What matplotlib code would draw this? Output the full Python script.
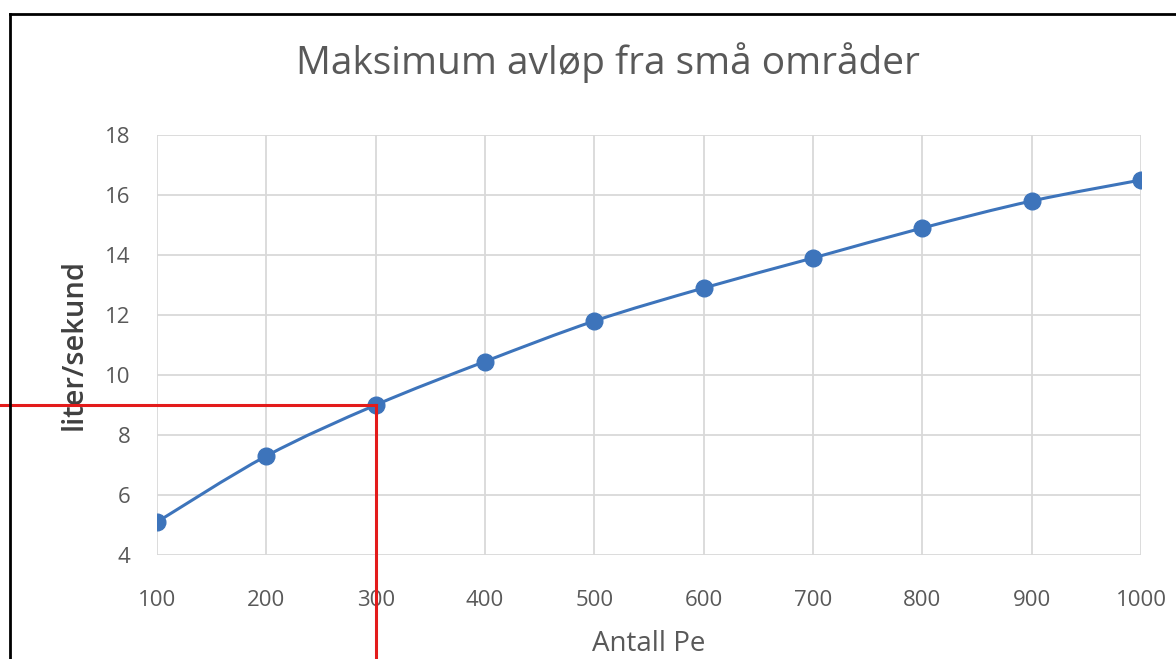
import matplotlib
matplotlib.use("Agg")
import matplotlib.pyplot as plt
from matplotlib.path import Path
from matplotlib.patches import PathPatch
from matplotlib.lines import Line2D
import numpy as np

antall_pe = [100, 200, 300, 400, 500, 600, 700, 800, 900, 1000]
liter_per_sekund = [5.1, 7.3, 9.0, 10.45, 11.8, 12.9, 13.9, 14.9, 15.8, 16.5]
x_ticks = [100, 200, 300, 400, 500, 600, 700, 800, 900, 1000]
y_ticks = [4, 6, 8, 10, 12, 14, 16, 18]
marked_x = 300
marked_y = 9.0

title = "Maksimum avløp fra små områder"
xlabel = "Antall Pe"
ylabel = "liter/sekund"

W, H = 1176, 659
fig = plt.figure(figsize=(W / 100, H / 100), dpi=100)
ax = fig.add_axes([157 / W, 1 - 555 / H, (1141 - 157) / W, (555 - 135) / H])

font = ["Open Sans", "DejaVu Sans"]
gray = "#595959"
blue = "#3d74bb"

ax.set_xlim(100, 1000)
ax.set_ylim(4, 18)
ax.set_xticks(x_ticks)
ax.set_yticks(y_ticks)
ax.grid(True, color="#d9d9d9", linewidth=1.3)
ax.set_axisbelow(True)
for s in ax.spines.values():
    s.set_visible(False)
ax.tick_params(length=0, labelsize=16, labelcolor=gray)
ax.tick_params(axis="x", pad=25)
ax.tick_params(axis="y", pad=19)
for lab in ax.get_xticklabels() + ax.get_yticklabels():
    lab.set_family(font)

# smoothed line (Catmull-Rom rendered as cubic Bezier)
xs = np.array(antall_pe, float)
ys = np.array(liter_per_sekund, float)
verts = [(xs[0], ys[0])]
codes = [Path.MOVETO]
n = len(xs)
for i in range(n - 1):
    p0 = np.array([xs[max(i - 1, 0)], ys[max(i - 1, 0)]])
    p1 = np.array([xs[i], ys[i]])
    p2 = np.array([xs[i + 1], ys[i + 1]])
    p3 = np.array([xs[min(i + 2, n - 1)], ys[min(i + 2, n - 1)]])
    c1 = p1 + (p2 - p0) / 6
    c2 = p2 - (p3 - p1) / 6
    verts += [tuple(c1), tuple(c2), tuple(p2)]
    codes += [Path.CURVE4] * 3
ax.add_patch(PathPatch(Path(verts, codes), facecolor="none", edgecolor=blue, linewidth=2.2, zorder=3))
ax.plot(xs, ys, linestyle="none", marker="o", markersize=12, color=blue, zorder=4)

fig.text(608 / W, 1 - 63 / H, title, ha="center", va="center", fontsize=28,
         color=gray, family=font)
ax.set_xlabel(xlabel, fontsize=20, color=gray, family=font, labelpad=14)
ax.set_ylabel(ylabel, fontsize=21, color="#404040", family=font, fontweight="semibold", labelpad=12)

# red marker lines
fig.canvas.draw()
inv = ax.transData.inverted()
x_left = inv.transform(fig.transFigure.transform((0, 0)))[0]
y_bottom = inv.transform(fig.transFigure.transform((0, 0)))[1]
red = "#e31b1b"
ax.add_line(Line2D([x_left, marked_x], [marked_y, marked_y], color=red, linewidth=2.2, clip_on=False, zorder=5))
ax.add_line(Line2D([marked_x, marked_x], [marked_y, y_bottom], color=red, linewidth=2.2, clip_on=False, zorder=5))

# black frame (left and top edges visible)
fig.add_artist(Line2D([10 / W, 10 / W], [0, 1 - 14 / H], transform=fig.transFigure, color="black", linewidth=2))
fig.add_artist(Line2D([10 / W, 1], [1 - 14 / H, 1 - 14 / H], transform=fig.transFigure, color="black", linewidth=2))

fig.savefig("out.png", dpi=100)
